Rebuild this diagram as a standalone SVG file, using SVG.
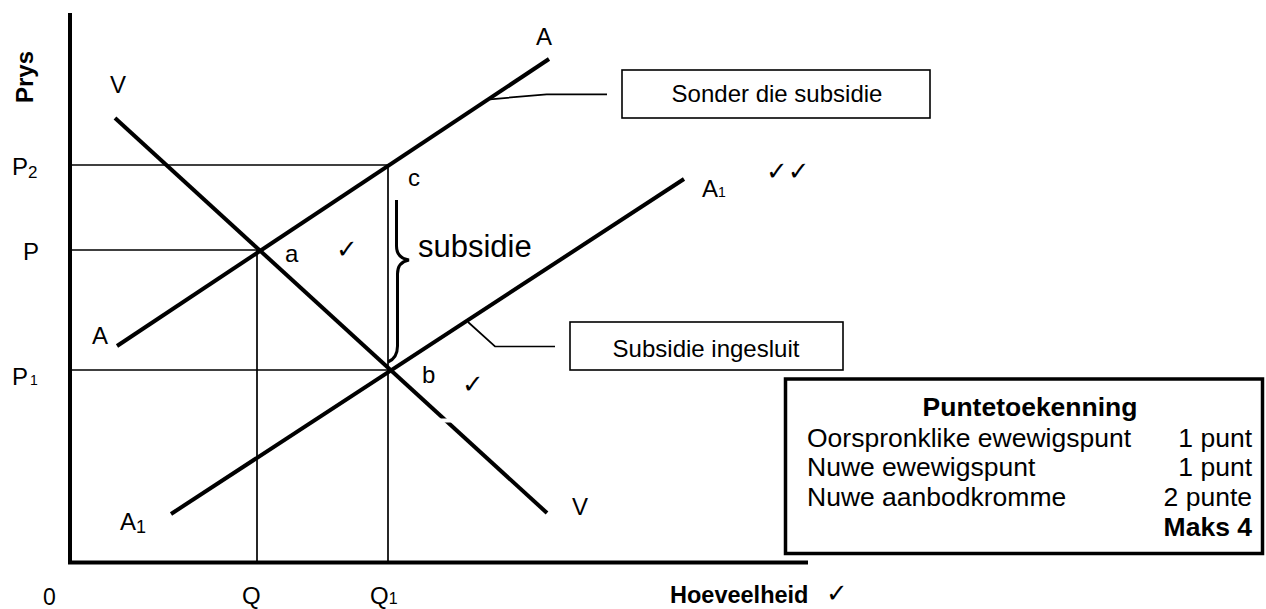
<svg xmlns="http://www.w3.org/2000/svg" width="1266" height="609" viewBox="0 0 1266 609">
  <style>
    .t { font-family: "Liberation Sans", Arial, sans-serif; fill: #000; }
    .b { font-weight: bold; }
    .chk { font-family: "DejaVu Sans", sans-serif; fill: #000; font-size: 26px; }
    .thick { stroke: #000; stroke-width: 4; fill: none; stroke-linecap: butt; }
    .thin { stroke: #000; stroke-width: 1.7; fill: none; }
    .box { stroke: #000; stroke-width: 1.6; fill: #fff; }
  </style>
  <rect width="1266" height="609" fill="#fff"/>

  <g id="guides">
    <line class="thin" x1="70" y1="165" x2="388" y2="165"/>
    <line class="thin" x1="70" y1="250" x2="258" y2="250"/>
    <line class="thin" x1="70" y1="370" x2="388" y2="370"/>
    <line class="thin" x1="257" y1="250" x2="257" y2="562" stroke-width="2.2"/>
    <line class="thin" x1="388" y1="165" x2="388" y2="562"/>
  </g>

  <g id="axes">
    <line class="thick" x1="70" y1="13" x2="70" y2="564" stroke-width="3.5"/>
    <line class="thick" x1="68" y1="562.5" x2="808" y2="562.5" stroke-width="4"/>
  </g>

  <g id="curve-V">
    <line class="thick" x1="115" y1="118" x2="547" y2="513"/>
    <rect x="436" y="418.5" width="16" height="4" fill="#fff"/>
  </g>
  <g id="curve-A">
    <line class="thick" x1="117" y1="346" x2="549" y2="59"/>
  </g>
  <g id="curve-A1">
    <line class="thick" x1="171" y1="514" x2="684" y2="179"/>
  </g>

  <g id="brace">
    <path d="M396.5 200 L396.5 246 Q396.5 258 409 260 Q397.5 262 397.5 274 L397.5 346 Q397.5 358 388 362" stroke="#000" stroke-width="3" fill="none"/>
  </g>

  <g id="connectors">
    <polyline class="thin" points="490,99.3 546.7,94.3 607,94.3"/>
    <polyline class="thin" points="468,322 495,346.5 555,346.5"/>
  </g>

  <g id="callout-sonder">
    <rect class="box" x="622" y="70" width="308" height="48"/>
    <text class="t" x="777" y="102" font-size="24" text-anchor="middle">Sonder die subsidie</text>
  </g>
  <g id="callout-ingesluit">
    <rect class="box" x="570" y="322" width="273" height="48"/>
    <text class="t" x="706" y="357" font-size="24" text-anchor="middle">Subsidie ingesluit</text>
  </g>

  <g id="labels">
    <text class="t b" font-size="24" text-anchor="middle" transform="translate(33 77) rotate(-90)">Prys</text>
    <text class="t" x="12" y="175" font-size="24">P<tspan font-size="17" dy="3">2</tspan></text>
    <text class="t" x="23" y="260" font-size="24">P</text>
    <text class="t" x="12" y="385" font-size="24">P<tspan font-size="14" dx="2">1</tspan></text>
    <text class="t" x="43" y="605" font-size="23">0</text>
    <text class="t" x="242" y="604" font-size="24">Q</text>
    <text class="t" x="370" y="604" font-size="24">Q<tspan font-size="16">1</tspan></text>
    <text class="t b" x="670" y="603" font-size="23.5">Hoeveelheid</text>
    <text class="chk" x="826" y="602">✓</text>
    <text class="t" x="110" y="93" font-size="24">V</text>
    <text class="t" x="536" y="45" font-size="24">A</text>
    <text class="t" x="408" y="186" font-size="24">c</text>
    <text class="t" x="418" y="257" font-size="31">subsidie</text>
    <text class="t" x="702" y="197" font-size="24">A<tspan font-size="14">1</tspan></text>
    <text class="chk" x="766" y="180">✓✓</text>
    <text class="t" x="285" y="262" font-size="24">a</text>
    <text class="chk" x="336" y="258">✓</text>
    <text class="t" x="92" y="344" font-size="24">A</text>
    <text class="t" x="422" y="383" font-size="24">b</text>
    <text class="chk" x="462" y="393">✓</text>
    <text class="t" x="572" y="515" font-size="24">V</text>
    <text class="t" x="120" y="530" font-size="24">A<tspan font-size="18" dy="3">1</tspan></text>
  </g>

  <g id="points-box">
    <rect x="785.5" y="379" width="477" height="174.5" fill="#fff" stroke="#000" stroke-width="3.5"/>
    <text class="t b" x="1030" y="416" font-size="26.5" text-anchor="middle">Puntetoekenning</text>
    <text class="t" x="807" y="446.5" font-size="26.5">Oorspronklike ewewigspunt</text>
    <text class="t" x="807" y="476" font-size="26.5">Nuwe ewewigspunt</text>
    <text class="t" x="807" y="506" font-size="26.5">Nuwe aanbodkromme</text>
    <text class="t" x="1252" y="446.5" font-size="26.5" text-anchor="end">1 punt</text>
    <text class="t" x="1252" y="476" font-size="26.5" text-anchor="end">1 punt</text>
    <text class="t" x="1252" y="506" font-size="26.5" text-anchor="end">2 punte</text>
    <text class="t b" x="1252" y="536" font-size="26.5" text-anchor="end">Maks 4</text>
  </g>
</svg>
